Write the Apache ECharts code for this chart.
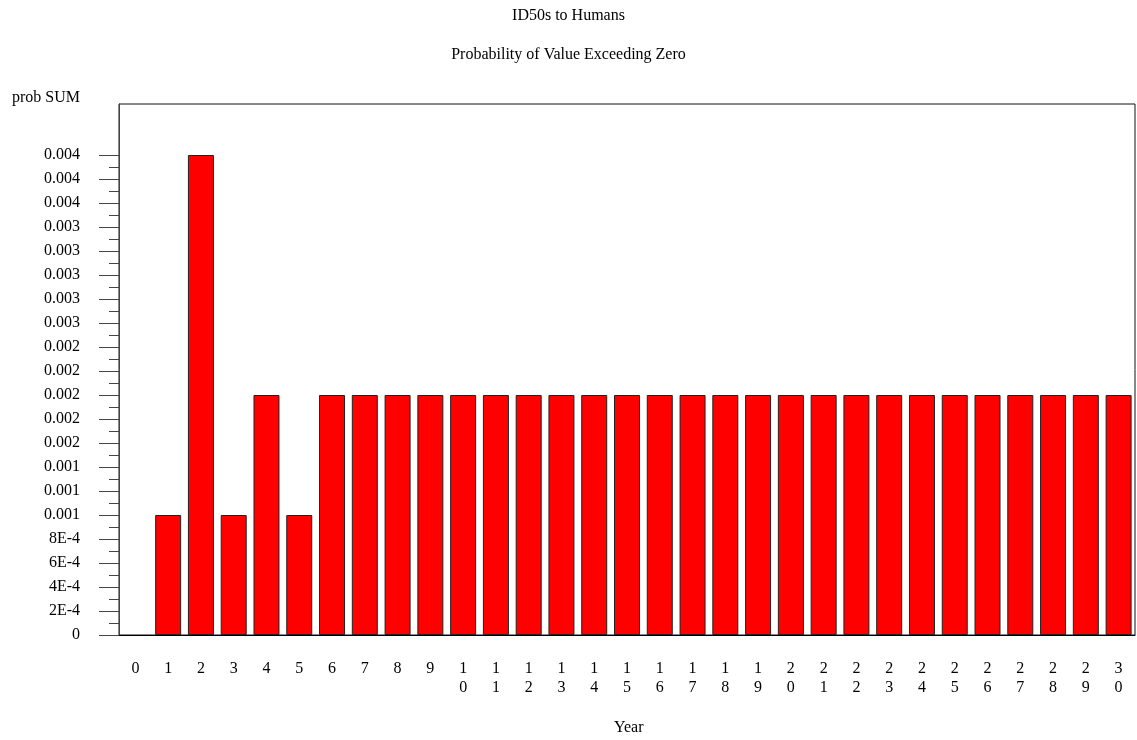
<!DOCTYPE html>
<html>
<head>
<meta charset="utf-8">
<script src="https://cdn.jsdelivr.net/npm/echarts@6/dist/echarts.min.js"></script>
<style>html,body{margin:0;padding:0;background:#fff;}#chart{width:1137px;height:740px;}</style>
</head>
<body>
<div id="chart"></div>
<script>
var years = ['0','1','2','3','4','5','6','7','8','9','10','11','12','13','14','15','16','17','18','19','20','21','22','23','24','25','26','27','28','29','30'];
var probSum = [null, 0.001, 0.004, 0.001, 0.002, 0.001, 0.002, 0.002, 0.002, 0.002, 0.002, 0.002, 0.002, 0.002, 0.002, 0.002, 0.002, 0.002, 0.002, 0.002, 0.002, 0.002, 0.002, 0.002, 0.002, 0.002, 0.002, 0.002, 0.002, 0.002, 0.002];
var yTickValues = [0, 0.0002, 0.0004, 0.0006, 0.0008, 0.001, 0.0012, 0.0014, 0.0016, 0.0018, 0.002, 0.0022, 0.0024, 0.0026, 0.0028, 0.003, 0.0032, 0.0034, 0.0036, 0.0038, 0.004];
var yTickLabels = ['0', '2E-4', '4E-4', '6E-4', '8E-4', '0.001', '0.001', '0.001', '0.002', '0.002', '0.002', '0.002', '0.002', '0.003', '0.003', '0.003', '0.003', '0.003', '0.004', '0.004', '0.004'];
var yMinorTickValues = [0.0001, 0.0003, 0.0005, 0.0007, 0.0009, 0.0011, 0.0013, 0.0015, 0.0017, 0.0019, 0.0021, 0.0023, 0.0025, 0.0027, 0.0029, 0.0031, 0.0033, 0.0035, 0.0037, 0.0039];
var yMax = 0.004425;

var font = 'Liberation Serif';
var chart = echarts.init(document.getElementById('chart'), null, {renderer: 'canvas'});
function labelFor(v) {
  for (var i = 0; i < yTickValues.length; i++) {
    if (Math.abs(yTickValues[i] - v) < 1e-9) return yTickLabels[i];
  }
  return '';
}
chart.setOption({
  animation: false,
  backgroundColor: '#fff',
  textStyle: {fontFamily: font},
  title: [
    {text: 'ID50s to Humans', left: 'center', top: 3, textStyle: {fontFamily: font, fontSize: 16, fontWeight: 'normal', color: '#000'}},
    {text: 'Probability of Value Exceeding Zero', left: 'center', top: 42, textStyle: {fontFamily: font, fontSize: 16, fontWeight: 'normal', color: '#000'}},
    {text: 'prob SUM', left: 7, top: 85, textStyle: {fontFamily: font, fontSize: 16, fontWeight: 'normal', color: '#000'}},
    {text: 'Year', left: 609, top: 715, textStyle: {fontFamily: font, fontSize: 16, fontWeight: 'normal', color: '#000'}}
  ],
  grid: {left: 119, right: 2, top: 104, bottom: 105, show: true, borderColor: '#111', borderWidth: 1, backgroundColor: 'transparent'},
  xAxis: {
    type: 'category',
    data: years,
    axisLine: {show: true, lineStyle: {color: '#000', width: 1}},
    axisTick: {show: false},
    axisLabel: {
      interval: 0,
      margin: 24,
      fontFamily: font,
      fontSize: 16,
      lineHeight: 19,
      color: '#000',
      formatter: function (v) { return v.split('').join('\n'); }
    },
    splitLine: {show: false}
  },
  yAxis: [
    {
      type: 'value',
      min: 0,
      max: yMax,
      position: 'left',
      axisLine: {show: true, lineStyle: {color: '#444', width: 1}},
      axisTick: {show: true, length: 20, customValues: yTickValues, lineStyle: {color: '#444'}},
      axisLabel: {
        customValues: yTickValues,
        margin: 39,
        fontFamily: font,
        fontSize: 16,
        color: '#000',
        formatter: function (v) { return labelFor(v); }
      },
      splitLine: {show: false}
    },
    {
      type: 'value',
      min: 0,
      max: yMax,
      position: 'left',
      axisLine: {show: false},
      axisTick: {show: true, length: 10, customValues: yMinorTickValues, lineStyle: {color: '#444'}},
      axisLabel: {show: false},
      splitLine: {show: false}
    }
  ],
  series: [{
    type: 'bar',
    data: probSum,
    yAxisIndex: 0,
    barWidth: 26,
    itemStyle: {color: '#ff0000', borderColor: '#222', borderWidth: 1}
  }]
});
</script>
</body>
</html>
